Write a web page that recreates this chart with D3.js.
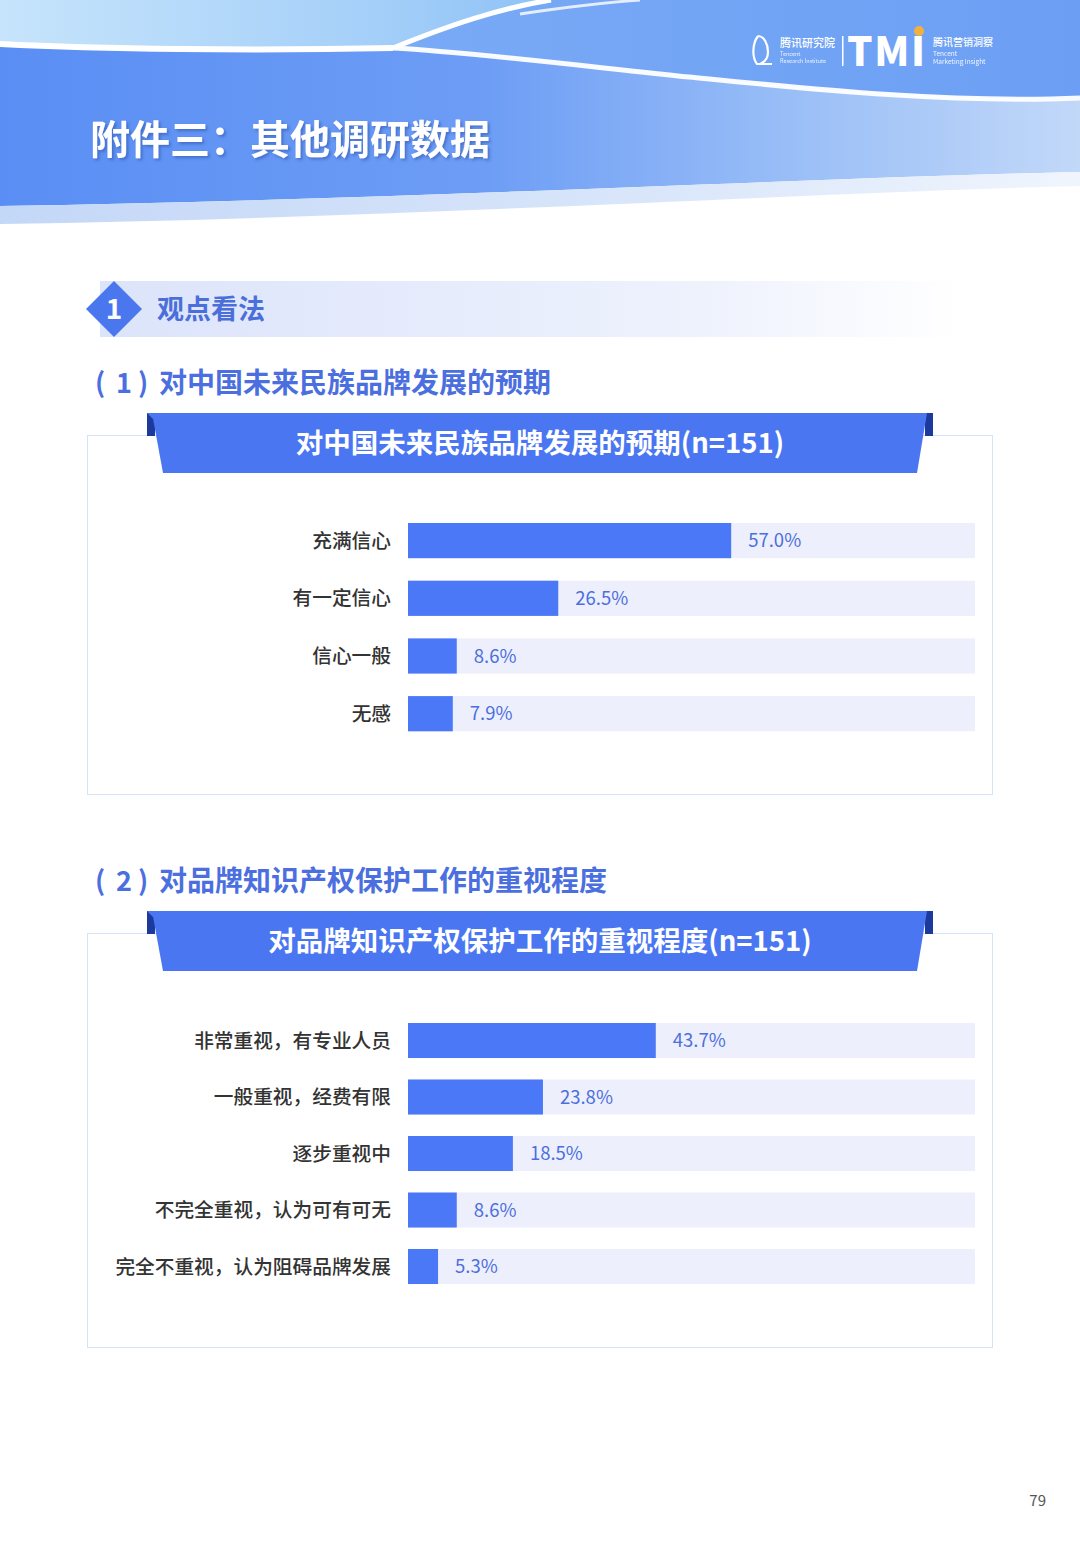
<!DOCTYPE html>
<html><head><meta charset="utf-8">
<script src="https://cdn.jsdelivr.net/npm/d3@7"></script>
<style>
html,body{margin:0;padding:0;background:#fff;}
svg{display:block;}
text{font-family:"Noto Sans CJK SC","Noto Sans",sans-serif;}
</style></head>
<body>
<svg id="page" width="1080" height="1560"></svg>
<script>
// ---------- data ----------
const pageTitle = "附件三：其他调研数据";
const sectionNo = "1";
const sectionTitle = "观点看法";

const subNo1 = "1";
const subtitle1 = "对中国未来民族品牌发展的预期";
const chartTitle1 = "对中国未来民族品牌发展的预期(n=151)";
const categories1 = ["充满信心", "有一定信心", "信心一般", "无感"];
const values1 = [57.0, 26.5, 8.6, 7.9];

const subNo2 = "2";
const subtitle2 = "对品牌知识产权保护工作的重视程度";
const chartTitle2 = "对品牌知识产权保护工作的重视程度(n=151)";
const categories2 = ["非常重视，有专业人员", "一般重视，经费有限", "逐步重视中", "不完全重视，认为可有可无", "完全不重视，认为阻碍品牌发展"];
const values2 = [43.7, 23.8, 18.5, 8.6, 5.3];

const pageNumber = "79";

// ---------- drawing ----------
const svg = d3.select("#page");
const defs = svg.append("defs");

function linGrad(id, stops, x1="0%", y1="0%", x2="100%", y2="0%") {
  const g = defs.append("linearGradient").attr("id", id)
    .attr("x1", x1).attr("y1", y1).attr("x2", x2).attr("y2", y2);
  stops.forEach(s => g.append("stop").attr("offset", s[0]).attr("stop-color", s[1]).attr("stop-opacity", s[2] == null ? 1 : s[2]));
}
linGrad("mainGrad", [["0%", "#5a8ef4"], ["45%", "#6d9df5"], ["75%", "#9cc0f7"], ["100%", "#c2d8f9"]]);
linGrad("upperGrad", [["0%", "#79aaf6"], ["100%", "#6c9ff4"]]);
linGrad("lightGrad", [["0%", "#c6e4fb"], ["60%", "#a9d2f9"], ["100%", "#8fc2f7"]]);
linGrad("stripGrad", [["0%", "#c3d7f7"], ["60%", "#d9e6fa"], ["100%", "#f0f5fd"]]);
linGrad("secGrad", [["0%", "#dce4fb"], ["70%", "#eef2fd"], ["100%", "#ffffff"]]);

const shadow = defs.append("filter").attr("id", "tshadow").attr("x", "-10%").attr("y", "-30%").attr("width", "130%").attr("height", "160%");
shadow.append("feDropShadow").attr("dx", 2).attr("dy", 2).attr("stdDeviation", 1.5).attr("flood-color", "#2a4fa8").attr("flood-opacity", 0.55);

// header
const hdr = svg.append("g");
hdr.append("path").attr("d", "M0,0 L1080,0 L1080,172 C800,178 400,200 0,206 Z").attr("fill", "url(#mainGrad)");
hdr.append("path").attr("d", "M0,206 C400,200 800,178 1080,172 L1080,186 C800,193 400,218 0,224 Z").attr("fill", "url(#stripGrad)");
hdr.append("path").attr("d", "M393,48 C450,25 500,8 551,0 L1080,0 L1080,100 C950,100 800,88 689,77 C600,68 470,52 393,48 Z").attr("fill", "url(#upperGrad)");
hdr.append("path").attr("d", "M0,0 L551,0 C500,8 450,25 393,48 C250,50 100,48 0,43 Z").attr("fill", "url(#lightGrad)");
hdr.append("path").attr("d", "M0,44 C100,49 250,51 393,48").attr("fill", "none").attr("stroke", "#fff").attr("stroke-width", 6);
hdr.append("path").attr("d", "M393,48 C450,25 500,8 551,0").attr("fill", "none").attr("stroke", "#fff").attr("stroke-width", 5);
hdr.append("path").attr("d", "M520,14 C560,8 600,3 640,0").attr("fill", "none").attr("stroke", "#fff").attr("stroke-width", 3).attr("opacity", 0.8);
hdr.append("path").attr("d", "M393,48 C470,52 600,68 689,77 C800,88 950,104 1080,98").attr("fill", "none").attr("stroke", "#fff").attr("stroke-width", 5).attr("opacity", 0.95);

// logo
const logo = hdr.append("g").attr("fill", "#fff");
logo.append("path").attr("d", "M758,36 C752,44 752,58 757,64 L772,64 M758,36 C764,36 768,44 768,52 C768,58 765,62 760,64")
  .attr("fill", "none").attr("stroke", "#fff").attr("stroke-width", 2.2);
logo.append("text").attr("x", 780).attr("y", 47).attr("font-size", 11).attr("font-weight", 500).text("腾讯研究院");
logo.append("text").attr("x", 780).attr("y", 56).attr("font-size", 5.5).attr("opacity", 0.85).text("Tencent");
logo.append("text").attr("x", 780).attr("y", 63).attr("font-size", 5.5).attr("opacity", 0.85).text("Research Institute");
logo.append("rect").attr("x", 842).attr("y", 36).attr("width", 1.5).attr("height", 30);
logo.append("text").attr("x", 847).attr("y", 66).attr("font-family", "Roboto, 'DejaVu Sans', sans-serif").attr("font-size", 40).attr("font-weight", 900).attr("textLength", 78).text("TMI");
logo.append("circle").attr("cx", 919).attr("cy", 31).attr("r", 5).attr("fill", "#f2b13c");
logo.append("text").attr("x", 933).attr("y", 46).attr("font-size", 10).attr("font-weight", 500).text("腾讯营销洞察");
logo.append("text").attr("x", 933).attr("y", 56).attr("font-size", 6.5).attr("opacity", 0.9).text("Tencent");
logo.append("text").attr("x", 933).attr("y", 64).attr("font-size", 6.5).attr("opacity", 0.9).text("Marketing Insight");

hdr.append("text").attr("x", 90).attr("y", 154).attr("font-size", 40).attr("font-weight", 700)
  .attr("fill", "#fff").attr("filter", "url(#tshadow)").text(pageTitle);

// section header
svg.append("rect").attr("x", 100).attr("y", 281).attr("width", 860).attr("height", 56).attr("fill", "url(#secGrad)");
svg.append("path").attr("d", "M114,281 L142,309 L114,337 L86,309 Z").attr("fill", "#4a77ee");
svg.append("text").attr("x", 114).attr("y", 319).attr("text-anchor", "middle").attr("font-size", 28).attr("font-weight", 700).attr("fill", "#fff").text(sectionNo);
svg.append("text").attr("x", 157).attr("y", 319).attr("font-size", 27).attr("font-weight", 700).attr("fill", "#4b6fda").text(sectionTitle);

// generic chart
const x = d3.scaleLinear().domain([0, 100]).range([408, 975]);

function drawChart(opt) {
  const g = svg.append("g");
  // subtitle
  const st = g.append("g").attr("fill", "#4c6fe0").attr("font-weight", 700);
  st.append("text").attr("x", 95).attr("y", opt.subY).attr("font-size", 27).text("(");
  st.append("text").attr("x", 124).attr("y", opt.subY).attr("font-size", 27).attr("text-anchor", "middle").text(opt.no);
  st.append("text").attr("x", 138).attr("y", opt.subY).attr("font-size", 27).text(")");
  st.append("text").attr("x", 159).attr("y", opt.subY).attr("font-size", 28).text(opt.subtitle);
  // box
  g.append("rect").attr("x", 87.5).attr("y", opt.boxTop + 0.5).attr("width", 905).attr("height", opt.boxBottom - opt.boxTop)
    .attr("fill", "#fff").attr("stroke", "#d3e4f4").attr("stroke-width", 1);
  // ribbon
  const rt = opt.ribTop, rb = opt.ribTop + 60;
  g.append("path").attr("d", `M147,${rt} L155,${rt} L155,${rt + 23} L147,${rt + 23} Z`).attr("fill", "#1c3a9c");
  g.append("path").attr("d", `M925,${rt} L933,${rt} L933,${rt + 23} L925,${rt + 23} Z`).attr("fill", "#1c3a9c");
  g.append("path").attr("d", `M152,${rt} L927,${rt} L917,${rb} L163,${rb} Z`).attr("fill", "#4a76f2");
  g.append("path").attr("d", `M147,${rt} L155,${rt} L153,${rt + 6} Z`).attr("fill", "#4a76f2");
  g.append("text").attr("x", 540).attr("y", rt + 40).attr("text-anchor", "middle").attr("font-size", 27.5)
    .attr("font-weight", 700).attr("fill", "#fff").text(opt.title);

  const n = opt.categories.length;
  const y = d3.scaleBand().domain(opt.categories)
    .range([opt.firstBar - opt.po * opt.step, opt.firstBar - opt.po * opt.step + n * opt.step])
    .paddingInner(opt.pi).paddingOuter(opt.po);
  const data = opt.categories.map((c, i) => ({ c, v: opt.values[i] }));

  g.selectAll(".track").data(data).join("rect").attr("class", "track")
    .attr("x", x(0)).attr("width", x(100) - x(0))
    .attr("y", d => y(d.c)).attr("height", y.bandwidth()).attr("fill", "#edf0fc");
  g.selectAll(".bar").data(data).join("rect").attr("class", "bar")
    .attr("x", x(0)).attr("width", d => x(d.v) - x(0))
    .attr("y", d => y(d.c)).attr("height", y.bandwidth()).attr("fill", "#4a78f6");
  g.selectAll(".cat").data(data).join("text").attr("class", "cat")
    .attr("x", 391).attr("y", d => y(d.c) + y.bandwidth() / 2).attr("dy", "0.36em")
    .attr("text-anchor", "end").attr("font-size", 19.7).attr("font-weight", 500).attr("fill", "#333")
    .text(d => d.c);
  g.selectAll(".val").data(data).join("text").attr("class", "val")
    .attr("x", d => x(d.v) + 17).attr("y", d => y(d.c) + y.bandwidth() / 2).attr("dy", "0.36em")
    .attr("font-size", 18.5).attr("fill", "#4c6fdc")
    .text(d => d.v.toFixed(1) + "%");
}

drawChart({
  no: subNo1, subtitle: subtitle1, subY: 393, title: chartTitle1, boxTop: 435, boxBottom: 794, ribTop: 413,
  categories: categories1, values: values1, firstBar: 523, step: 57.7, pi: 0.39, po: 0.195
});
drawChart({
  no: subNo2, subtitle: subtitle2, subY: 891, title: chartTitle2, boxTop: 933, boxBottom: 1347, ribTop: 911,
  categories: categories2, values: values2, firstBar: 1023, step: 56.5, pi: 0.38, po: 0.19
});

svg.append("text").attr("x", 1046).attr("y", 1506).attr("text-anchor", "end").attr("font-size", 15)
  .attr("font-family", "'Open Sans','Noto Sans',sans-serif").attr("fill", "#555").text(pageNumber);
</script>
</body></html>
